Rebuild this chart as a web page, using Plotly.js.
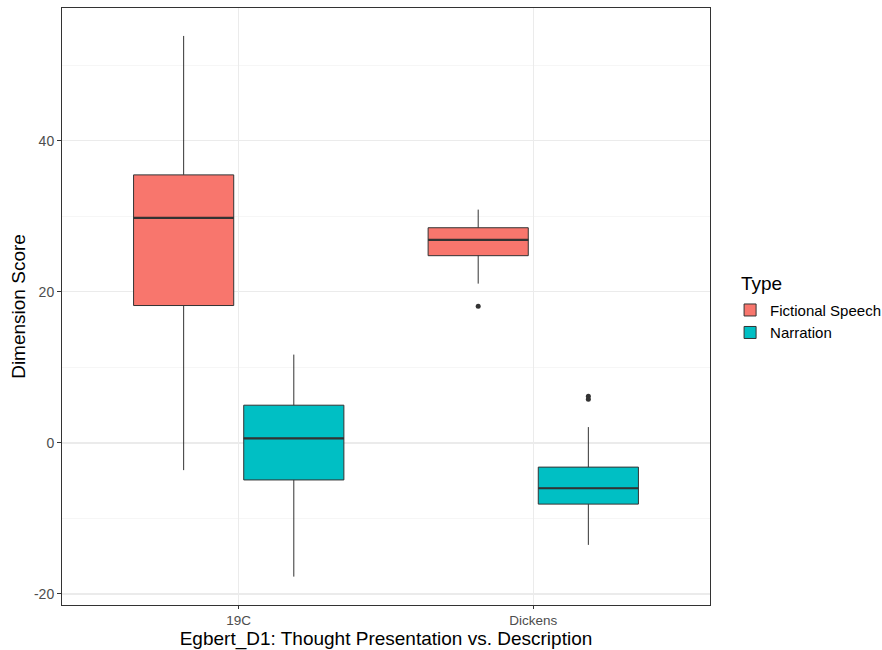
<!DOCTYPE html>
<html>
<head>
<meta charset="utf-8">
<script src="https://cdn.plot.ly/plotly-3.0.1.min.js"></script>
<style>html,body{margin:0;padding:0;background:#fff;}#chart{width:882px;height:650px;}</style>
</head>
<body>
<div id="chart"></div>
<script>
// Data
const categories = ['19C', 'Dickens'];
const types = ['Fictional Speech', 'Narration'];
const colors = ['#F8766D', '#00BFC4'];

// per type, per category: [lowerWhisker, q1, median, q3, upperWhisker]
const fictionalStats = [[-3.6, 18.2, 29.8, 35.5, 53.9], [21.1, 24.8, 26.9, 28.5, 30.9]];
const narrationStats = [[-17.7, -4.9, 0.6, 5.0, 11.7], [-13.5, -8.1, -6.0, -3.2, 2.1]];
const fictionalOutliers = [[], [18.1]];
const narrationOutliers = [[], [6.2, 5.8]];

const statsByType = [fictionalStats, narrationStats];
const outliersByType = [fictionalOutliers, narrationOutliers];

const dodge = 0.187;   // half-distance between dodged boxes
const boxW = 0.34;
const font = 'Liberation Sans, Arial, sans-serif';

const traces = [];
types.forEach((t, ti) => {
  const st = statsByType[ti];
  const off = ti === 0 ? -dodge : dodge;
  const xs = categories.map((c, ci) => ci + off);
  traces.push({
    type: 'box',
    name: t,
    legendgroup: t,
    x: xs,
    lowerfence: st.map(s => s[0]),
    q1: st.map(s => s[1]),
    median: st.map(s => s[2]),
    q3: st.map(s => s[3]),
    upperfence: st.map(s => s[4]),
    width: boxW,
    whiskerwidth: 0,
    fillcolor: colors[ti],
    line: {color: '#333333', width: 1},
    boxpoints: false,
    hoverinfo: 'skip'
  });
});
// thicker median lines
types.forEach((t, ti) => {
  const st = statsByType[ti];
  const off = ti === 0 ? -dodge : dodge;
  const mx = [], my = [];
  categories.forEach((c, ci) => {
    mx.push(ci + off - boxW / 2, ci + off + boxW / 2, null);
    my.push(st[ci][2], st[ci][2], null);
  });
  traces.push({type: 'scatter', mode: 'lines', x: mx, y: my, showlegend: false,
    line: {color: '#333333', width: 2.2}, hoverinfo: 'skip'});
});
// outliers
types.forEach((t, ti) => {
  const off = ti === 0 ? -dodge : dodge;
  const ox = [], oy = [];
  categories.forEach((c, ci) => {
    outliersByType[ti][ci].forEach(v => { ox.push(ci + off); oy.push(v); });
  });
  traces.push({type: 'scatter', mode: 'markers', x: ox, y: oy, showlegend: false,
    marker: {color: '#333333', size: 5}, hoverinfo: 'skip'});
});

const layout = {
  width: 882, height: 650,
  margin: {l: 62, r: 172, t: 8, b: 45, autoexpand: false},
  paper_bgcolor: '#ffffff', plot_bgcolor: '#ffffff',
  font: {family: font, color: '#000'},
  boxmode: 'overlay',
  showlegend: true,
  xaxis: {
    range: [-0.6, 1.6],
    tickvals: categories.map((c, i) => i),
    ticktext: categories,
    showgrid: true, gridcolor: '#ebebeb', gridwidth: 1.1,
    zeroline: false,
    showline: true, mirror: true, linecolor: '#333333', linewidth: 1,
    ticks: 'outside', ticklen: 3, tickcolor: '#333333', tickwidth: 1,
    tickfont: {family: font, size: 13.5, color: '#4d4d4d'},
    automargin: false,
    title: {text: 'Egbert_D1: Thought Presentation vs. Description', font: {family: font, size: 19, color: '#000'}, standoff: 10}
  },
  yaxis: {
    range: [-21.46, 57.6],
    tickvals: [-20, 0, 20, 40],
    ticktext: ['-20', '0', '20', '40'],
    showgrid: true, gridcolor: '#ebebeb', gridwidth: 1.1,
    minor: {tickvals: [-10, 10, 30, 50], showgrid: true, gridcolor: '#f0f0f0', gridwidth: 0.6, ticks: ''},
    zeroline: false,
    showline: true, mirror: true, linecolor: '#333333', linewidth: 1,
    ticks: 'outside', ticklen: 4, tickcolor: '#333333', tickwidth: 1,
    tickfont: {family: font, size: 14, color: '#4d4d4d'},
    automargin: false,
    title: {text: 'Dimension Score', font: {family: font, size: 19, color: '#000'}, standoff: 3}
  },
  legend: {
    x: 1.031, xanchor: 'left', y: 0.5214, yanchor: 'top',
    font: {family: font, size: 15, color: '#000'},
    tracegroupgap: 0, itemwidth: 30,
    bgcolor: 'rgba(0,0,0,0)'
  },
  annotations: [{
    text: 'Type', xref: 'paper', yref: 'paper', x: 1.0448, y: (605 - 283) / 597,
    xanchor: 'left', yanchor: 'middle', showarrow: false,
    font: {family: font, size: 19, color: '#000'}
  }]
};

Plotly.newPlot('chart', traces, layout, {displayModeBar: false, staticPlot: true});
</script>
</body>
</html>
